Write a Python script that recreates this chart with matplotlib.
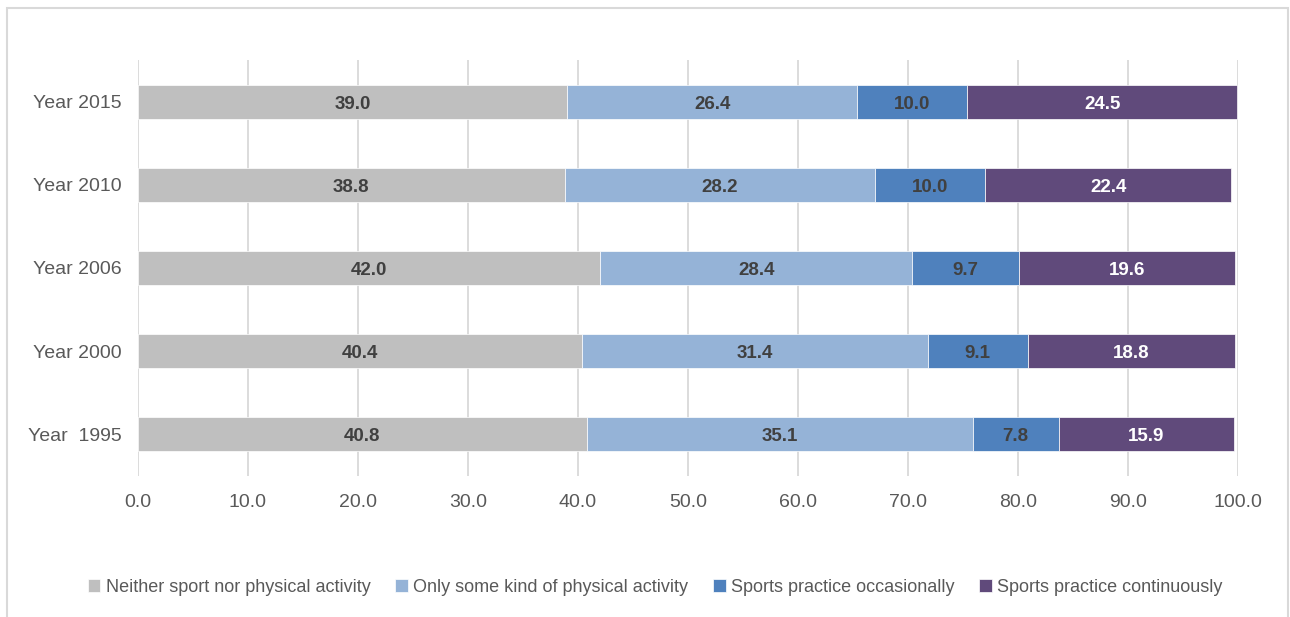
import numpy as np
import matplotlib.pyplot as plt
from matplotlib.patches import Rectangle

plt.rcParams['font.family'] = ['Liberation Sans', 'DejaVu Sans']

years = ['Year  1995', 'Year 2000', 'Year 2006', 'Year 2010', 'Year 2015']
series = ['Neither sport nor physical activity', 'Only some kind of physical activity',
          'Sports practice occasionally', 'Sports practice continuously']
neither = [40.8, 40.4, 42.0, 38.8, 39.0]
some_kind = [35.1, 31.4, 28.4, 28.2, 26.4]
occasionally = [7.8, 9.1, 9.7, 10.0, 10.0]
continuously = [15.9, 18.8, 19.6, 22.4, 24.5]
colors = ['#BFBFBF', '#95B3D7', '#4F81BD', '#604A7B']
label_colors = ['#404040', '#404040', '#404040', 'white']

fig = plt.figure(figsize=(12.9, 6.17), dpi=100)
ax = fig.add_axes([138 / 1290, 1 - 476 / 617, 1100 / 1290, 416 / 617])

y = np.arange(len(years))
left = np.zeros(len(years))
for vals, name, c, lc in zip([neither, some_kind, occasionally, continuously], series, colors, label_colors):
    ax.barh(y, vals, left=left, height=0.41, color=c, label=name, zorder=3,
            edgecolor='white', linewidth=0.5)
    for yi, l, v in zip(y, left, vals):
        ax.text(l + v / 2, yi - 0.03, '%.1f' % v, ha='center', va='center',
                color=lc, fontsize=13.5, fontweight='bold', zorder=4)
    left = left + np.array(vals)

ax.set_xlim(0, 100)
ax.set_ylim(-0.5, 4.5)
ax.set_xticks(np.arange(0, 101, 10))
ax.set_xticklabels(['%.1f' % t for t in np.arange(0, 101, 10)])
ax.set_yticks(y)
ax.set_yticklabels(years)
ax.tick_params(axis='both', length=0, labelsize=14, labelcolor='#595959')
ax.tick_params(axis='x', pad=13)
ax.tick_params(axis='y', pad=12)
ax.grid(axis='x', color='#D9D9D9', linewidth=1.3, zorder=0)
for s in ax.spines.values():
    s.set_visible(False)

fig.legend(loc='center', bbox_to_anchor=(0.5078, 1 - 587 / 617), ncol=4, frameon=False,
           fontsize=13, handlelength=0.7, handleheight=0.7, handletextpad=0.3,
           columnspacing=1.37, labelcolor='#595959')

fig.patches.append(Rectangle((7 / 1290, -0.05), 1281 / 1290, 1.05 - 8 / 617,
                             transform=fig.transFigure, fill=False,
                             edgecolor='#D9D9D9', linewidth=1.5))

fig.savefig('out.png', dpi=100)
